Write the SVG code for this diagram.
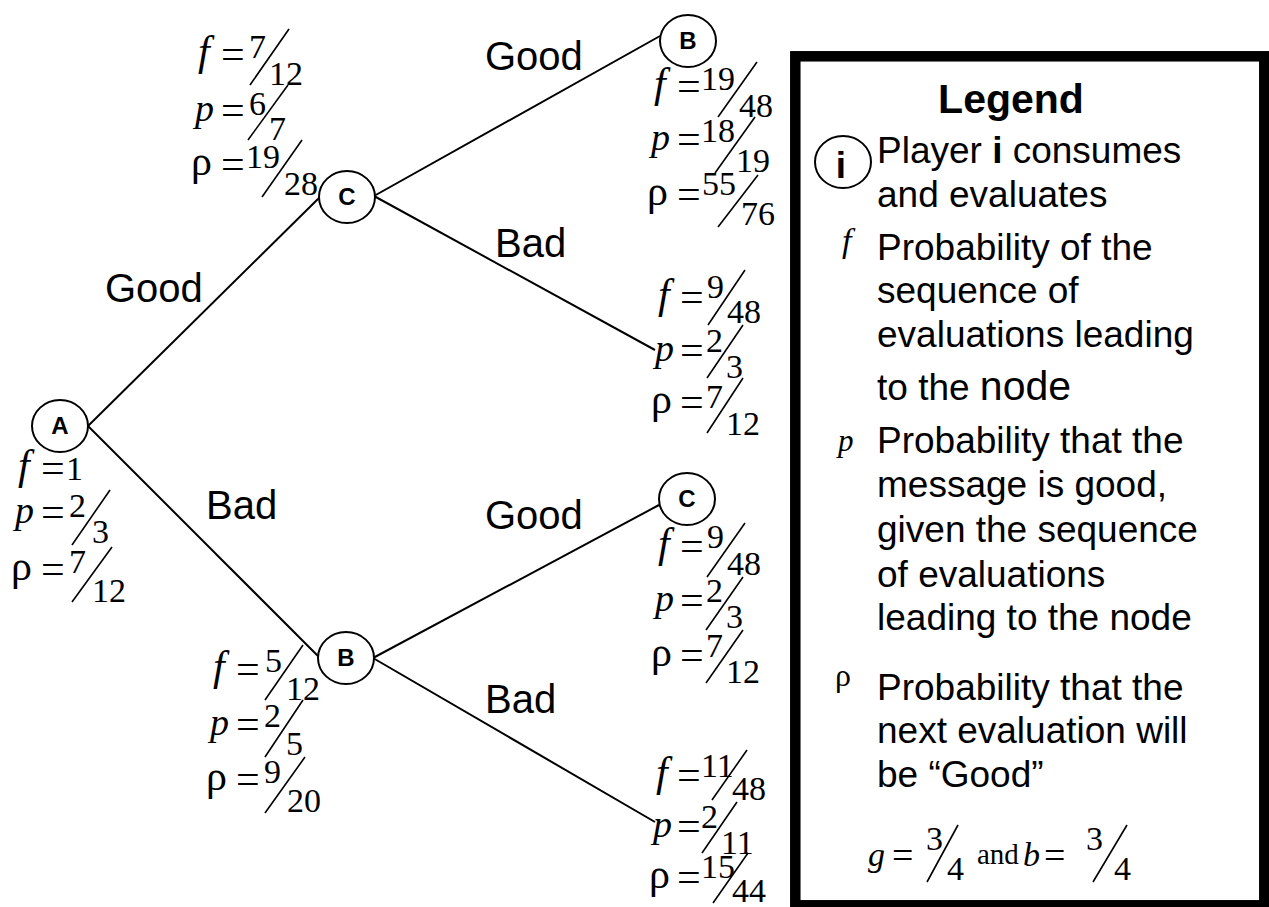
<svg xmlns="http://www.w3.org/2000/svg" width="1269" height="907" viewBox="0 0 1269 907">
<style>
.edge{stroke:#000;stroke-width:2;fill:none}
.node{fill:#fff;stroke:#000;stroke-width:2}
.nl{font-family:"Liberation Sans",Arial,sans-serif;font-weight:bold;font-size:24px;text-anchor:middle}
.lab{font-family:"Liberation Sans",Arial,sans-serif;font-size:40px}
.m{font-family:"Liberation Serif","Times New Roman",serif;font-size:34px}
.f{font-family:"Liberation Serif","Times New Roman",serif;font-size:42px;font-style:italic}
.p{font-family:"Liberation Serif","Times New Roman",serif;font-size:38px;font-style:italic}
.r{font-family:"Liberation Serif","Times New Roman",serif;font-size:42px}
.eq{font-family:"Liberation Serif","Times New Roman",serif;font-size:42px}
.sl{stroke:#000;stroke-width:1.6}
.lg{font-family:"Liberation Sans",Arial,sans-serif;font-size:37px}
.lm{font-family:"Liberation Serif","Times New Roman",serif;font-size:34px}
</style>
<rect width="1269" height="907" fill="#fff"/>
<g id="connectors">
<line class="edge" x1="88" y1="426" x2="320" y2="197"/>
<line class="edge" x1="88" y1="426" x2="318" y2="656"/>
<line class="edge" x1="374" y1="196" x2="660" y2="36"/>
<line class="edge" x1="374" y1="196" x2="655" y2="350"/>
<line class="edge" x1="373" y1="658" x2="659" y2="505"/>
<line class="edge" x1="373" y1="658" x2="655" y2="822"/>
<text class="lab" x="485" y="70">Good</text>
<text class="lab" x="495" y="257">Bad</text>
<text class="lab" x="105" y="302">Good</text>
<text class="lab" x="206" y="519">Bad</text>
<text class="lab" x="485" y="529">Good</text>
<text class="lab" x="485" y="713">Bad</text>
</g>
<g id="node-A">
<ellipse class="node" cx="60" cy="426" rx="28" ry="26"/>
<text class="nl" x="60" y="434">A</text>
<text class="f" x="18" y="479">f</text><text class="eq" x="41" y="482">=</text><text class="m" x="66" y="480">1</text>
<text class="p" x="15" y="523">p</text><text class="eq" x="41" y="526">=</text><text class="m" x="69" y="517">2</text><line class="sl" x1="72" y1="545" x2="110" y2="490"/><text class="m" x="92" y="543">3</text>
<text class="r" x="11" y="580">ρ</text><text class="eq" x="41" y="583">=</text><text class="m" x="69" y="573">7</text><line class="sl" x1="72" y1="602" x2="112" y2="547"/><text class="m" x="92" y="602">12</text>
</g>
<g id="node-C1">
<ellipse class="node" cx="347" cy="197" rx="28" ry="26"/>
<text class="nl" x="347" y="205">C</text>
<text class="f" x="198" y="65">f</text><text class="eq" x="221" y="68">=</text><text class="m" x="249" y="58">7</text><line class="sl" x1="250" y1="85" x2="289" y2="29"/><text class="m" x="269" y="85">12</text>
<text class="p" x="195" y="121">p</text><text class="eq" x="221" y="124">=</text><text class="m" x="249" y="115">6</text><line class="sl" x1="248" y1="140" x2="288" y2="85"/><text class="m" x="269" y="140">7</text>
<text class="r" x="191" y="175">ρ</text><text class="eq" x="221" y="178">=</text><text class="m" x="246" y="168">19</text><line class="sl" x1="262" y1="197" x2="302" y2="140"/><text class="m" x="284" y="195">28</text>
</g>
<g id="node-B1">
<ellipse class="node" cx="346" cy="658" rx="28" ry="26"/>
<text class="nl" x="346" y="666">B</text>
<text class="f" x="213" y="680">f</text><text class="eq" x="236" y="683">=</text><text class="m" x="265" y="672">5</text><line class="sl" x1="265" y1="700" x2="303" y2="645"/><text class="m" x="286" y="700">12</text>
<text class="p" x="210" y="735">p</text><text class="eq" x="236" y="738">=</text><text class="m" x="264" y="727">2</text><line class="sl" x1="265" y1="757" x2="303" y2="700"/><text class="m" x="286" y="755">5</text>
<text class="r" x="206" y="790">ρ</text><text class="eq" x="236" y="793">=</text><text class="m" x="264" y="783">9</text><line class="sl" x1="265" y1="813" x2="305" y2="757"/><text class="m" x="287" y="812">20</text>
</g>
<g id="node-B2">
<ellipse class="node" cx="688" cy="41" rx="28" ry="26"/>
<text class="nl" x="688" y="49">B</text>
<text class="f" x="654" y="97">f</text><text class="eq" x="677" y="100">=</text><text class="m" x="701" y="90">19</text><line class="sl" x1="718" y1="117" x2="757" y2="62"/><text class="m" x="739" y="117">48</text>
<text class="p" x="651" y="150">p</text><text class="eq" x="677" y="153">=</text><text class="m" x="701" y="142">18</text><line class="sl" x1="715" y1="173" x2="755" y2="117"/><text class="m" x="736" y="172">19</text>
<text class="r" x="647" y="205">ρ</text><text class="eq" x="677" y="208">=</text><text class="m" x="702" y="195">55</text><line class="sl" x1="718" y1="227" x2="758" y2="175"/><text class="m" x="741" y="225">76</text>
</g>
<g id="leaf-CBad">
<text class="f" x="658" y="308">f</text><text class="eq" x="680" y="311">=</text><text class="m" x="707" y="298">9</text><line class="sl" x1="708" y1="325" x2="745" y2="270"/><text class="m" x="727" y="323">48</text>
<text class="p" x="655" y="361">p</text><text class="eq" x="680" y="364">=</text><text class="m" x="706" y="352">2</text><line class="sl" x1="707" y1="378" x2="743" y2="325"/><text class="m" x="726" y="378">3</text>
<text class="r" x="651" y="413">ρ</text><text class="eq" x="680" y="416">=</text><text class="m" x="706" y="408">7</text><line class="sl" x1="707" y1="433" x2="743" y2="378"/><text class="m" x="726" y="435">12</text>
</g>
<g id="node-C2">
<ellipse class="node" cx="687" cy="499" rx="28" ry="26"/>
<text class="nl" x="687" y="507">C</text>
<text class="f" x="658" y="557">f</text><text class="eq" x="680" y="560">=</text><text class="m" x="707" y="548">9</text><line class="sl" x1="707" y1="577" x2="745" y2="523"/><text class="m" x="727" y="575">48</text>
<text class="p" x="655" y="611">p</text><text class="eq" x="680" y="614">=</text><text class="m" x="706" y="602">2</text><line class="sl" x1="706" y1="630" x2="743" y2="577"/><text class="m" x="726" y="628">3</text>
<text class="r" x="651" y="666">ρ</text><text class="eq" x="680" y="669">=</text><text class="m" x="706" y="657">7</text><line class="sl" x1="706" y1="683" x2="743" y2="630"/><text class="m" x="726" y="683">12</text>
</g>
<g id="leaf-BBad">
<text class="f" x="656" y="786">f</text><text class="eq" x="677" y="789">=</text><text class="m" x="701" y="777">11</text><line class="sl" x1="712" y1="800" x2="747" y2="750"/><text class="m" x="732" y="800">48</text>
<text class="p" x="653" y="837">p</text><text class="eq" x="677" y="840">=</text><text class="m" x="701" y="828">2</text><line class="sl" x1="702" y1="853" x2="737" y2="802"/><text class="m" x="721" y="854">11</text>
<text class="r" x="649" y="888">ρ</text><text class="eq" x="677" y="891">=</text><text class="m" x="701" y="878">15</text><line class="sl" x1="713" y1="903" x2="748" y2="853"/><text class="m" x="732" y="902">44</text>
</g>
<g id="legend">
<rect x="795.3" y="56.3" width="469" height="849" fill="none" stroke="#000" stroke-width="10.5"/>
<text x="1011" y="113" font-family="Liberation Sans, Arial, sans-serif" font-weight="bold" font-size="41" text-anchor="middle">Legend</text>
<ellipse class="node" cx="843" cy="162" rx="28" ry="26"/>
<text x="841" y="178" font-family="Liberation Sans, Arial, sans-serif" font-weight="bold" font-size="37" text-anchor="middle">i</text>
<text class="lg" x="877" y="163">Player <tspan font-weight="bold">i</tspan> consumes</text>
<text class="lg" x="877" y="207">and evaluates</text>
<text x="842" y="252" font-family="Liberation Serif, Times New Roman, serif" font-style="italic" font-size="34">f</text>
<text class="lg" x="877" y="260">Probability of the</text>
<text class="lg" x="877" y="303">sequence of</text>
<text class="lg" x="877" y="347">evaluations leading</text>
<text class="lg" x="877" y="400">to the <tspan font-size="41">node</tspan></text>
<text x="838" y="451" font-family="Liberation Serif, Times New Roman, serif" font-style="italic" font-size="31">p</text>
<text class="lg" x="877" y="453">Probability that the</text>
<text class="lg" x="877" y="497">message is good,</text>
<text class="lg" x="877" y="542">given the sequence</text>
<text class="lg" x="877" y="587">of evaluations</text>
<text class="lg" x="877" y="630">leading to the node</text>
<text x="835" y="686" font-family="Liberation Serif, Times New Roman, serif" font-size="32">ρ</text>
<text class="lg" x="877" y="700">Probability that the</text>
<text class="lg" x="877" y="743">next evaluation will</text>
<text class="lg" x="877" y="787">be “Good”</text>
<text x="868" y="866" font-family="Liberation Serif, Times New Roman, serif" font-style="italic" font-size="34">g</text>
<text x="892" y="868" font-family="Liberation Serif, Times New Roman, serif" font-size="38">=</text>
<text x="926" y="850" class="lm">3</text>
<line class="sl" x1="927" y1="882" x2="958" y2="825"/>
<text x="947" y="880" class="lm">4</text>
<text x="977" y="864" font-family="Liberation Serif, Times New Roman, serif" font-size="29">and</text>
<text x="1023" y="866" font-family="Liberation Serif, Times New Roman, serif" font-style="italic" font-size="34">b</text>
<text x="1044" y="868" font-family="Liberation Serif, Times New Roman, serif" font-size="38">=</text>
<text x="1086" y="850" class="lm">3</text>
<line class="sl" x1="1093" y1="882" x2="1127" y2="825"/>
<text x="1114" y="880" class="lm">4</text>
</g>
</svg>
